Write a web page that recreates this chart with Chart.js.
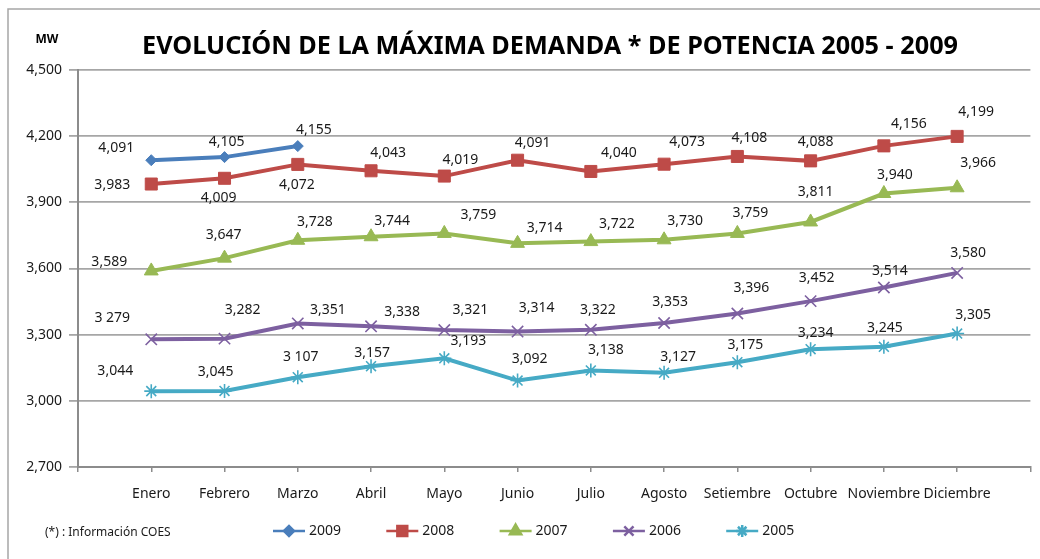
<!DOCTYPE html>
<html>
<head>
<meta charset="utf-8">
<script src="https://cdn.jsdelivr.net/npm/chart.js@4/dist/chart.umd.min.js"></script>
<style>
    html, body { margin: 0; padding: 0; background: #fff; }
    #wrap { width: 1040px; height: 559px; position: relative; }
</style>
</head>
<body>
<div id="wrap"><canvas id="chart" width="1040" height="559"></canvas></div>
<script>
    "use strict";

    // data
    let months = ['Enero', 'Febrero', 'Marzo', 'Abril', 'Mayo', 'Junio', 'Julio', 'Agosto', 'Setiembre', 'Octubre', 'Noviembre', 'Diciembre'];
    let years = ['2009', '2008', '2007', '2006', '2005'];
    let d2009 = [4091, 4105, 4155];
    let d2008 = [3983, 4009, 4072, 4043, 4019, 4091, 4040, 4073, 4108, 4088, 4156, 4199];
    let d2007 = [3589, 3647, 3728, 3744, 3759, 3714, 3722, 3730, 3759, 3811, 3940, 3966];
    let d2006 = [3279, 3282, 3351, 3338, 3321, 3314, 3322, 3353, 3396, 3452, 3514, 3580];
    let d2005 = [3044, 3045, 3107, 3157, 3193, 3092, 3138, 3127, 3175, 3234, 3245, 3305];
    let yTicks = [2700, 3000, 3300, 3600, 3900, 4200, 4500];

    // label text that differs from the plain format in the source
    let labelOverrides = {'2006': {0: '3 279'}, '2005': {2: '3 107'}};

    // where each value label sits relative to its point (dx, dy)
    let labelOffsets = {
        '2009': [[-35, -12], [2, -15], [16, -16]],
        '2008': [[-39, 1], [-6, 20], [-1, 21], [17, -18], [16, -16], [15, -17], [28, -18], [23, -22], [12, -18], [5, -19], [25, -22], [19, -24]],
        '2007': [[-42, -9], [-1, -23], [17, -18], [21, -16], [34, -18], [27, -15], [26, -18], [21, -19], [13, -20], [5, -30], [11, -18], [21, -25]],
        '2006': [[-39, -21], [18, -29], [30, -13], [31, -14], [26, -20], [19, -24], [7, -20], [6, -21], [14, -25], [6, -23], [6, -16], [11, -20]],
        '2005': [[-36, -20], [-9, -19], [3, -20], [1, -13], [24, -17], [12, -22], [15, -20], [14, -16], [8, -17], [5, -16], [1, -19], [16, -19]]
    };

    let seriesStyle = {
        '2009': {color: '#4A7EBB', point: 'rectRot', radius: 5.5, legendRadius: 5},
        '2008': {color: '#BE4B48', point: 'rect', radius: 8.5, legendRadius: 7},
        '2007': {color: '#98B954', point: 'triangle', radius: 8, legendRadius: 6.5},
        '2006': {color: '#7D60A0', point: 'crossRot', radius: 8, legendRadius: 6.5},
        '2005': {color: '#46AAC5', point: 'star', radius: 7, legendRadius: 6}
    };

    let seriesData = {'2009': d2009, '2008': d2008, '2007': d2007, '2006': d2006, '2005': d2005};

    let FONT = '"Noto Sans", "DejaVu Sans", sans-serif';

    let fmt = v => v.toLocaleString('en-US');

    let datasets = years.map(yr => {
        let st = seriesStyle[yr];
        let thin = (st.point === 'crossRot' || st.point === 'star');
        return {
            label: yr,
            data: seriesData[yr].map((v, i) => ({x: i + 1, y: v})),
            borderColor: st.color,
            backgroundColor: st.color,
            borderWidth: 4,
            pointStyle: st.point,
            pointRadius: st.radius,
            pointBorderWidth: thin ? 1.6 : 1,
            pointBackgroundColor: st.color,
            pointBorderColor: st.color,
            tension: 0
        };
    });

    // frame, title, value labels, legend and note
    let decorations = {
        id: 'decorations',
        beforeDraw: function (chart) {
            let ctx = chart.ctx;
            ctx.save();
            ctx.fillStyle = '#fff';
            ctx.fillRect(0, 0, chart.width, chart.height);
            ctx.strokeStyle = '#a6a6a6';
            ctx.lineWidth = 1.5;
            ctx.beginPath();
            ctx.moveTo(8, chart.height + 2);
            ctx.lineTo(8, 9);
            ctx.lineTo(chart.width + 2, 9);
            ctx.stroke();
            ctx.restore();
        },
        afterDatasetsDraw: function (chart) {
            let ctx = chart.ctx;
            ctx.save();
            ctx.font = '14px ' + FONT;
            ctx.fillStyle = '#1a1a1a';
            ctx.textAlign = 'center';
            ctx.textBaseline = 'middle';
            chart.data.datasets.forEach((ds, di) => {
                let meta = chart.getDatasetMeta(di);
                let yr = ds.label;
                meta.data.forEach((pt, i) => {
                    let off = labelOffsets[yr][i] || [0, -18];
                    let txt = (labelOverrides[yr] && labelOverrides[yr][i]) || fmt(seriesData[yr][i]);
                    ctx.fillText(txt, pt.x + off[0], pt.y + off[1]);
                });
            });
            ctx.restore();
        },
        afterDraw: function (chart) {
            let ctx = chart.ctx;
            ctx.save();

            // title, squeezed to the width it takes in the source
            let title = 'EVOLUCIÓN DE LA MÁXIMA DEMANDA * DE POTENCIA 2005 - 2009';
            ctx.font = 'bold 25px ' + FONT;
            ctx.fillStyle = '#000';
            ctx.textBaseline = 'middle';
            ctx.textAlign = 'center';
            let w = ctx.measureText(title).width;
            ctx.translate(550, 47);
            ctx.scale(816 / w, 1);
            ctx.fillText(title, 0, 0);
            ctx.setTransform(1, 0, 0, 1, 0, 0);

            // unit
            ctx.font = 'bold 12px ' + FONT;
            ctx.fillText('MW', 47, 40);

            // note
            ctx.font = '12px ' + FONT;
            ctx.textAlign = 'left';
            ctx.fillStyle = '#1a1a1a';
            ctx.fillText('(*) : Información COES', 45, 533);

            // legend
            let lx = 273, ly = 531;
            years.forEach((yr, i) => {
                let st = seriesStyle[yr];
                let x0 = lx + i * 113.3;
                ctx.strokeStyle = st.color;
                ctx.lineWidth = 2.5;
                ctx.beginPath();
                ctx.moveTo(x0, ly);
                ctx.lineTo(x0 + 32, ly);
                ctx.stroke();
                ctx.fillStyle = st.color;
                Chart.helpers.drawPoint(ctx, {
                    pointStyle: st.point,
                    radius: st.legendRadius,
                    rotation: 0,
                    borderWidth: 1.4
                }, x0 + 16, ly);
                ctx.fillStyle = '#1a1a1a';
                ctx.font = '14px ' + FONT;
                ctx.textAlign = 'left';
                ctx.fillText(yr, x0 + 36, ly);
            });
            ctx.restore();
        }
    };

    let ctx = document.getElementById('chart').getContext('2d');
    let chart = new Chart(ctx, {
        type: 'line',
        data: {datasets: datasets},
        options: {
            responsive: false,
            animation: false,
            devicePixelRatio: 1,
            layout: {padding: {left: 0, right: 7, top: 70, bottom: 0}},
            plugins: {
                legend: {display: false},
                title: {display: false},
                tooltip: {enabled: false}
            },
            scales: {
                x: {
                    type: 'linear',
                    min: 0,
                    max: 13,
                    afterFit: scale => {
                        scale.height = 92;
                        scale.paddingLeft = 0;
                        scale.paddingRight = 0;
                    },
                    afterBuildTicks: scale => {
                        scale.ticks = [];
                        for (let v = 0; v <= 13; v++) scale.ticks.push({value: v});
                    },
                    ticks: {
                        autoSkip: false,
                        maxRotation: 0,
                        padding: 14,
                        color: '#1a1a1a',
                        font: {family: FONT, size: 14},
                        callback: v => months[v - 1] || ''
                    },
                    grid: {
                        drawOnChartArea: false,
                        drawTicks: true,
                        tickLength: 5,
                        color: '#8c8c8c',
                        lineWidth: 1.5
                    },
                    border: {color: '#8c8c8c', width: 2}
                },
                y: {
                    min: yTicks[0],
                    max: yTicks[yTicks.length - 1],
                    afterFit: scale => { scale.width = 78; },
                    afterBuildTicks: scale => {
                        scale.ticks = yTicks.map(v => ({value: v}));
                    },
                    ticks: {
                        padding: 7,
                        color: '#1a1a1a',
                        font: {family: FONT, size: 14},
                        callback: v => fmt(v)
                    },
                    grid: {
                        color: '#a6a6a6',
                        lineWidth: 1.8,
                        tickLength: 9
                    },
                    border: {color: '#8c8c8c', width: 2}
                }
            }
        },
        plugins: [decorations]
    });
</script>
</body>
</html>
